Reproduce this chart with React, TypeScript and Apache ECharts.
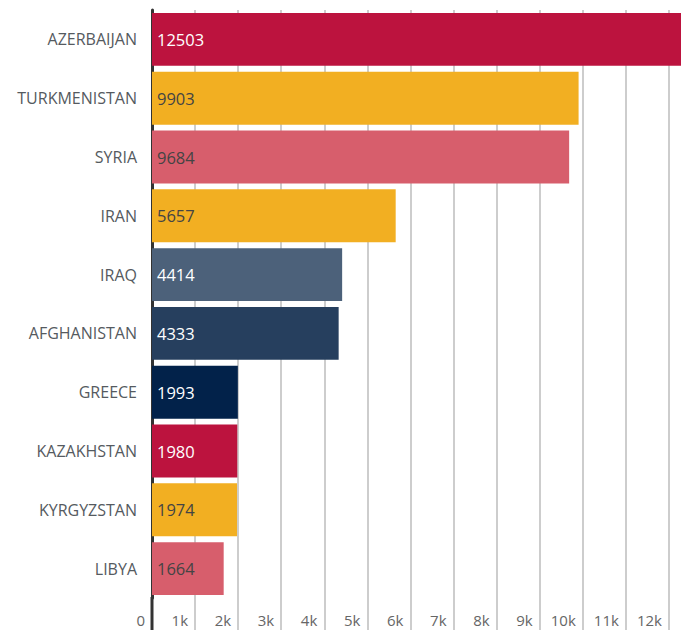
import React, { useEffect, useRef } from "react";
import * as echarts from "echarts";

const countries = [
  "AZERBAIJAN",
  "TURKMENISTAN",
  "SYRIA",
  "IRAN",
  "IRAQ",
  "AFGHANISTAN",
  "GREECE",
  "KAZAKHSTAN",
  "KYRGYZSTAN",
  "LIBYA",
];
const values = [12503, 9903, 9684, 5657, 4414, 4333, 1993, 1980, 1974, 1664];
const barColors = [
  "#BC133E",
  "#F2AF22",
  "#D75E6C",
  "#F2AF22",
  "#4C617A",
  "#263F5E",
  "#02224A",
  "#BC133E",
  "#F2AF22",
  "#D75E6C",
];
const labelColors = [
  "#ffffff",
  "#444444",
  "#444444",
  "#444444",
  "#ffffff",
  "#ffffff",
  "#ffffff",
  "#ffffff",
  "#444444",
  "#444444",
];

const FONT = "Open Sans";

export default function App() {
  const ref = useRef<HTMLDivElement>(null);
  useEffect(() => {
    if (!ref.current) return;
    const chart = echarts.init(ref.current, null, { renderer: "svg" });
    chart.setOption({
      animation: false,
      grid: { left: 152, right: 8, top: 10, bottom: 37, containLabel: false },
      xAxis: {
        type: "value",
        min: 0,
        max: 13000,
        interval: 1000,
        axisLine: { show: false },
        axisTick: {
          show: true,
          length: 32,
          lineStyle: { color: "#bdbdbd", width: 1.5 },
        },
        splitLine: { show: true, lineStyle: { color: "#bdbdbd", width: 1.5 } },
        axisLabel: {
          margin: 14,
          align: "right",
          padding: [0, 7, 0, 0],
          color: "#666",
          fontFamily: FONT,
          fontSize: 15,
          showMaxLabel: false,
          formatter: (v: number) => (v === 0 ? "0" : v / 1000 + "k"),
        },
      },
      yAxis: {
        type: "category",
        inverse: true,
        data: countries,
        axisLine: { show: true, lineStyle: { color: "#333", width: 3 } },
        axisTick: { show: false },
        axisLabel: {
          margin: 15,
          color: "#555a60",
          fontFamily: FONT,
          fontSize: 16,
        },
      },
      series: [
        {
          type: "bar",
          barCategoryGap: "10%",
          data: values.map((v, i) => ({
            value: v,
            itemStyle: { color: barColors[i] },
            label: { color: labelColors[i] },
          })),
          label: {
            show: true,
            position: "insideLeft",
            distance: 5,
            fontFamily: FONT,
            fontSize: 16.5,
          },
        },
      ],
    });
    const x0 = chart.convertToPixel({ xAxisIndex: 0 }, 0) as number;
    const yBottom = ref.current.clientHeight - 37;
    chart.setOption({
      graphic: [
        {
          type: "line",
          shape: { x1: x0, y1: yBottom - 1, x2: x0, y2: yBottom + 32 },
          style: { stroke: "#333", lineWidth: 3 },
          z: 10,
        },
      ],
    });
    return () => chart.dispose();
  }, []);
  return (
    <div style={{ width: 681, height: 635, position: "absolute", left: 0, top: 0, overflow: "hidden" }}>
      <div ref={ref} style={{ width: 720, height: 635 }} />
    </div>
  );
}
